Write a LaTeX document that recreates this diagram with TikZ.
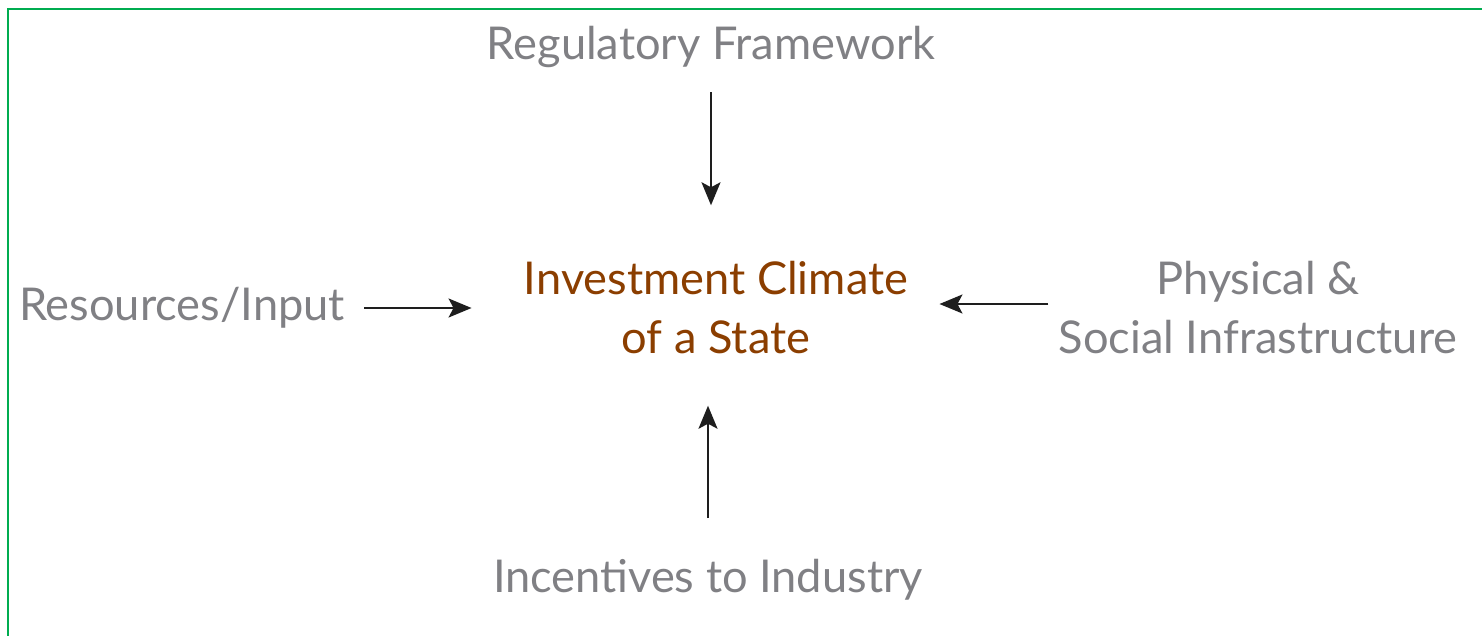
\documentclass[tikz,border=0pt]{standalone}
\usepackage{fontspec}
\setmainfont{Lato}
\usetikzlibrary{arrows.meta}
\definecolor{framegreen}{RGB}{0,172,80}
\definecolor{labelgray}{RGB}{128,128,132}
\definecolor{climbrown}{RGB}{139,62,0}
\definecolor{arrowblack}{RGB}{30,30,30}
\tikzset{
	factor/.style={text=labelgray, align=center, inner sep=0pt, font=\fontsize{22.6}{29.5}\selectfont},
	centre/.style={factor, text=climbrown},
	feed/.style={draw=arrowblack, line width=1pt, -{Stealth[length=11.5pt, width=9.5pt, inset=2.5pt]}}
}
\begin{document}
\begin{tikzpicture}[x=0.5pt, y=-0.5pt]
	\useasboundingbox (0,0) rectangle (1482,636);
	\draw[framegreen, line width=1.2pt] (8,636) -- (8,9) -- (1482,9);
	\node[centre] (climate) at (716,308) {Investment Climate\\of a State};
	\node[factor] (reg) at (711,47) {Regulatory Framework};
	\node[factor] (res) at (182,308) {Resources/Input};
	\node[factor] (infra) at (1258,308) {Physical \&\\Social Infrastructure};
	\node[factor] (incent) at (708,580) {Incentives to Industry};
	\draw[feed, shorten <=12pt, shorten >=28pt] (reg.south) -- (reg.south |- climate.north);
	\draw[feed, shorten <=20.5pt, shorten >=25.5pt] (incent.north) -- (incent.north |- climate.south);
	\draw[feed, shorten <=9.5pt, shorten >=26pt] (res.east) -- (climate.west |- res.east);
	\draw[feed, shorten <=5pt, shorten >=15.5pt] ([yshift=2pt]infra.west) -- ([yshift=2pt]climate.east |- infra.west);
\end{tikzpicture}
\end{document}
